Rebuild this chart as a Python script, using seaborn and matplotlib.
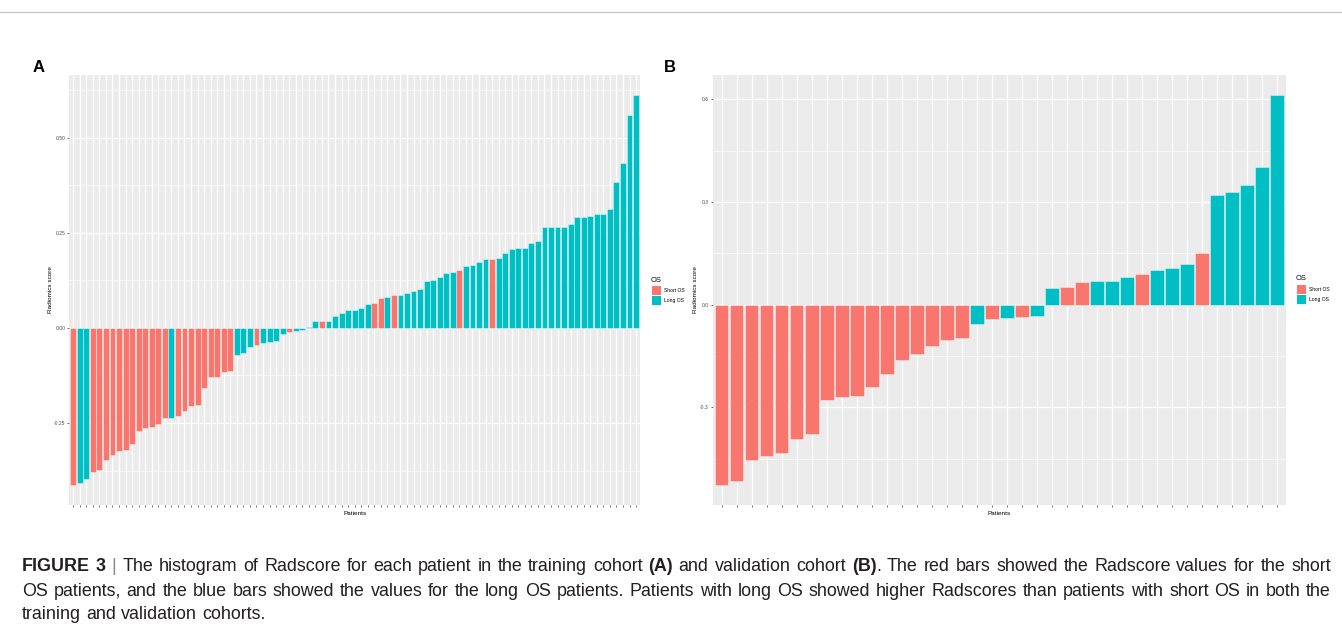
import numpy as np
import pandas as pd
import matplotlib
matplotlib.use("Agg")
import matplotlib.pyplot as plt
import seaborn as sns
from matplotlib.patches import Rectangle
from matplotlib.lines import Line2D
from matplotlib.ticker import FixedLocator

W, H = 1342, 629

# ---------------- data ----------------
train_scores = [
    -0.414, -0.408, -0.397, -0.379, -0.373, -0.346, -0.333, -0.324, -0.320, -0.304,
    -0.270, -0.264, -0.260, -0.253, -0.238, -0.237, -0.232, -0.218, -0.204, -0.203,
    -0.159, -0.128, -0.128, -0.116, -0.113, -0.072, -0.065, -0.050, -0.045, -0.040,
    -0.038, -0.035, -0.016, -0.010, -0.007, -0.006, 0.003, 0.017, 0.017, 0.017,
    0.031, 0.040, 0.046, 0.046, 0.053, 0.063, 0.065, 0.079, 0.080, 0.086,
    0.087, 0.091, 0.098, 0.101, 0.122, 0.127, 0.133, 0.143, 0.146, 0.153,
    0.162, 0.166, 0.173, 0.181, 0.182, 0.183, 0.196, 0.208, 0.209, 0.210,
    0.223, 0.227, 0.265, 0.265, 0.265, 0.265, 0.273, 0.291, 0.291, 0.295,
    0.299, 0.299, 0.311, 0.383, 0.433, 0.560, 0.613,
]
train_os = list(
    "SLLSSSSSSS"
    "SSSSSLSSSS"
    "SSSSSLLLSL"
    "LLLSLLLLSL"
    "LLLLLLSSLS"
    "LLLLLLLLLS"
    "LLLLSLLLLL"
    "LLLLLLLLLL"
    "LLLLLLL"
)
valid_scores = [
    -0.528, -0.516, -0.453, -0.443, -0.433, -0.393, -0.378, -0.277, -0.271, -0.266,
    -0.239, -0.203, -0.161, -0.143, -0.121, -0.102, -0.096, -0.056, -0.043, -0.040,
    -0.036, -0.034, 0.049, 0.051, 0.065, 0.070, 0.070, 0.082, 0.090, 0.102,
    0.107, 0.120, 0.151, 0.321, 0.330, 0.349, 0.402, 0.614,
]
valid_os = list(
    "SSSSSSSSSS"
    "SSSSSSSLSL"
    "SLLSSLLLSL"
    "LLSLLLLL"
)
group_codes = {"S": "Short OS", "L": "Long OS"}
group_labels = ["Short OS", "Long OS"]
group_colors = ["#F8766D", "#00BFC4"]
train_yticks = [-0.25, 0.0, 0.25, 0.50]
valid_yticks = [-0.3, 0.0, 0.3, 0.6]

palette = dict(zip(group_labels, group_colors))
FONT = "Liberation Sans"


def fx(x):
    return x / W


def fy(y):
    return 1 - y / H


def draw_panel(ax, scores, groups, major, fmt, ylab_x):
    n = len(scores)
    df = pd.DataFrame({
        "Patient": [f"P{i + 1}" for i in range(n)],
        "score": scores,
        "OS": [group_codes[g] for g in groups],
    })
    sns.barplot(data=df, x="Patient", y="score", hue="OS", hue_order=group_labels,
                palette=palette, dodge=False, width=0.9, errorbar=None,
                legend=False, ax=ax, edgecolor=(1, 1, 1, 0.55), linewidth=0.5,
                saturation=1)
    ax.set_facecolor("#EBEBEB")
    lo, hi = min(scores), max(scores)
    span = hi - lo
    y0, y1 = lo - 0.05 * span, hi + 0.05 * span
    ax.set_ylim(y0, y1)
    ax.set_xlim(-0.6, n - 1 + 0.6)
    step = major[1] - major[0]
    ax.yaxis.set_major_locator(FixedLocator(major))
    minor = [m for m in np.arange(major[0] - 3 * step, y1 + step, step) + step / 2
             if y0 < m < y1]
    ax.yaxis.set_minor_locator(FixedLocator(minor))
    ax.set_yticklabels([fmt.format(v) for v in major], family=FONT)
    ax.set_xticks(range(n))
    ax.set_xticklabels([""] * n)
    ax.grid(which="major", color="white", lw=0.9)
    ax.grid(which="minor", axis="y", color="white", lw=0.45)
    ax.set_axisbelow(True)
    for s in ax.spines.values():
        s.set_visible(False)
    ax.tick_params(which="major", length=1.6, width=0.5, color="#333333",
                   labelsize=3.6, labelcolor="#4D4D4D", pad=1.2)
    ax.tick_params(which="minor", length=0)
    ax.set_xlabel("Patients", fontsize=4.6, family=FONT, color="black")
    ax.xaxis.set_label_coords(0.5, -0.013)
    ax.set_ylabel("Radiomics score", fontsize=4.6, family=FONT, color="black")
    ax.yaxis.set_label_coords(ylab_x, 0.5)


fig = plt.figure(figsize=(W / 100, H / 100), dpi=100)
fig.patch.set_facecolor("white")

axA = fig.add_axes([fx(69.3), fy(505), (640 - 69.3) / W, 430 / H])
axB = fig.add_axes([fx(712.7), fy(505), (1286 - 712.7) / W, 430 / H])
draw_panel(axA, train_scores, train_os, train_yticks, "{:.2f}", -0.029)
draw_panel(axB, valid_scores, valid_os, valid_yticks, "{:.1f}", -0.026)

# panel letters
fig.text(fx(39), fy(68), "A", fontsize=12, fontweight="bold", family=FONT,
         ha="center", va="center")
fig.text(fx(670), fy(68), "B", fontsize=12, fontweight="bold", family=FONT,
         ha="center", va="center")


# legends (ggplot style)
def legend(x, y):
    fig.text(fx(x), fy(y), "OS", fontsize=5.4, family=FONT, ha="left",
             va="center", color="black")
    for i, (lab, col) in enumerate(zip(group_labels, group_colors)):
        top = y + 5.5 + i * 10.2
        fig.add_artist(Rectangle((fx(x), fy(top + 10)), 10 / W, 10 / H,
                                 transform=fig.transFigure, facecolor="#F2F2F2",
                                 edgecolor="white", lw=0.4))
        fig.add_artist(Rectangle((fx(x + 0.5), fy(top + 9.5)), 9 / W, 9 / H,
                                 transform=fig.transFigure, facecolor=col,
                                 edgecolor="none"))
        fig.text(fx(x + 13), fy(top + 5.2), lab, fontsize=3.6, family=FONT,
                 ha="left", va="center", color="black")


legend(651, 280)
legend(1296, 279)

# top frame line
fig.add_artist(Line2D([0, 1], [fy(12), fy(12)], transform=fig.transFigure,
                      color="#C8C8C8", lw=1.0))

# ---------------- caption ----------------
cap_lines = [
    ("**FIGURE** **3** | The histogram of Radscore for each patient in the training cohort **(A)** "
     "and validation cohort **(B)**. The red bars showed the Radscore values for the short", True, 571),
    ("OS patients, and the blue bars showed the values for the long OS patients. Patients with "
     "long OS showed higher Radscores than patients with short OS in both the", True, 596),
    ("training and validation cohorts.", False, 619),
]
CAP_SIZE = 12.9
renderer = fig.canvas.get_renderer()


def measure(t, weight):
    tt = fig.text(0, 0, t, fontsize=CAP_SIZE, fontweight=weight, family=FONT)
    w = tt.get_window_extent(renderer).width
    tt.remove()
    return w


space_w = measure("a a", "normal") - measure("aa", "normal")
X0, X1 = 22, 1331
for text, justify, base in cap_lines:
    words = []
    for w in text.split(" "):
        parts = w.split("**")
        segs = []
        for k, p in enumerate(parts):
            if p:
                segs.append((p, "bold" if k % 2 == 1 else "normal"))
        words.append(segs)
    widths = [sum(measure(p, wt) for p, wt in segs) for segs in words]
    gap = (X1 - X0 - sum(widths)) / (len(words) - 1) if justify else space_w
    x = X0
    for segs, ww in zip(words, widths):
        for p, wt in segs:
            col = "#888888" if p == "|" else "#231F20"
            fig.text(fx(x), fy(base), p, fontsize=CAP_SIZE, fontweight=wt,
                     family=FONT, ha="left", va="baseline", color=col)
            x += measure(p, wt)
        x += gap

fig.savefig("out.png", dpi=100, facecolor="white")
